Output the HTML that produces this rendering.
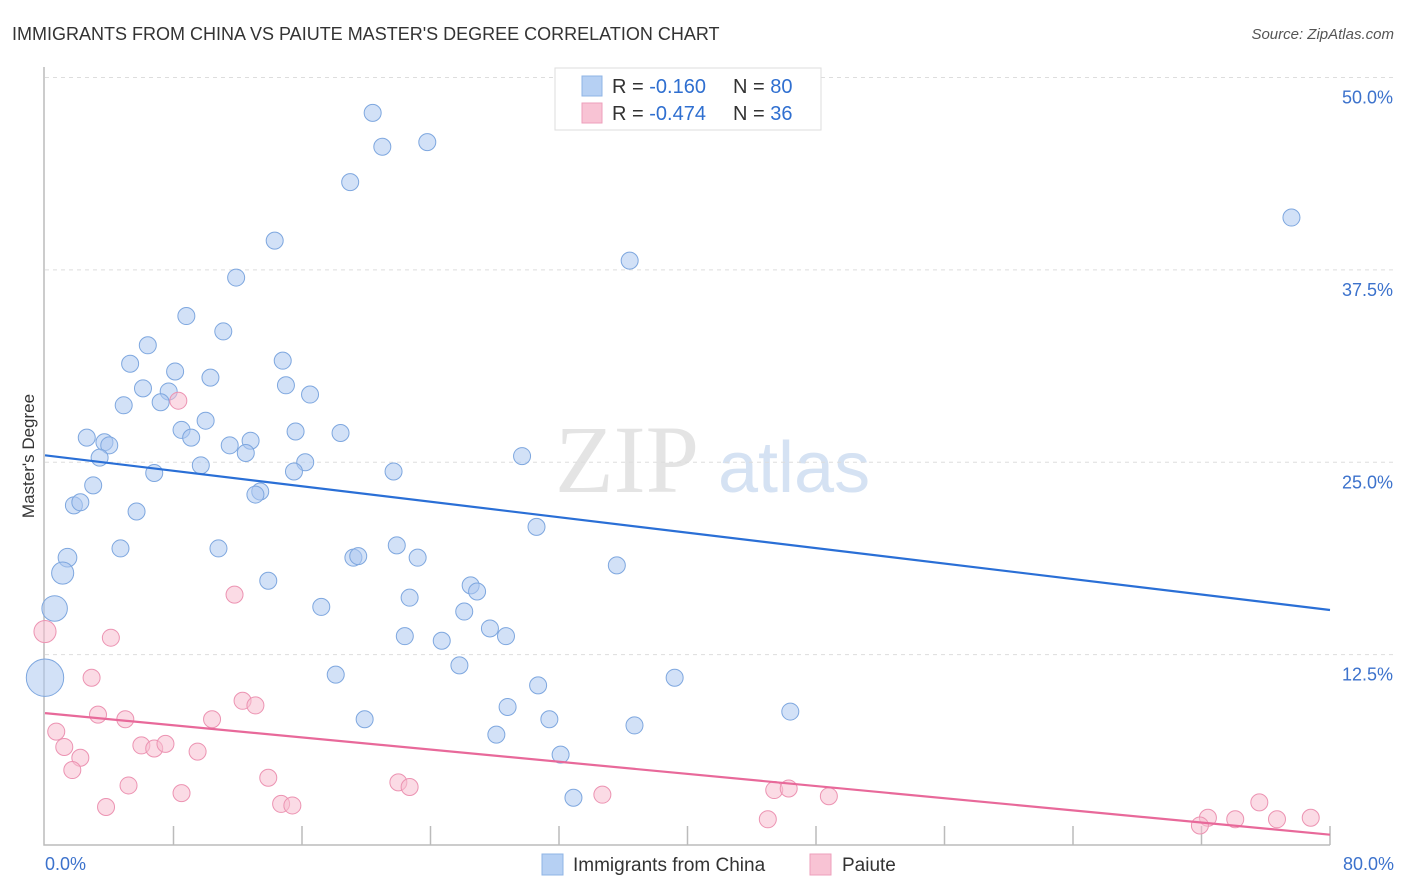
<!DOCTYPE html>
<html><head><meta charset="utf-8"><style>
body{margin:0;background:#fff;font-family:"Liberation Sans",sans-serif}
svg{display:block}
</style></head><body>
<svg id="chart" width="1406" height="892">
<text x="12" y="40" font-size="18" fill="#333">IMMIGRANTS FROM CHINA VS PAIUTE MASTER'S DEGREE CORRELATION CHART</text>
<text x="1394" y="39" font-size="15" fill="#555" text-anchor="end" font-style="italic">Source: ZipAtlas.com</text>
<text x="555" y="492" font-size="96" fill="#e4e4e4" font-family="Liberation Serif,serif">ZIP</text>
<text x="718" y="492" font-size="72" fill="#d5e2f3">atlas</text>
<text transform="translate(34,456) rotate(-90)" font-size="17" fill="#333" text-anchor="middle">Master's Degree</text>
<g id="grid"></g><g id="axes"></g><g id="pts"></g><g id="lines"></g>
<g>
<rect x="555" y="68" width="266" height="62" fill="#fff" stroke="#ddd"/>
<rect x="582" y="76" width="20" height="20" fill="#b6d0f3" stroke="#8fb4e6"/>
<rect x="582" y="103" width="20" height="20" fill="#f8c3d4" stroke="#ee9fbb"/>
<text x="612" y="93" font-size="20" fill="#333">R = <tspan fill="#2f6fd0">-0.160</tspan><tspan x="733">N = </tspan><tspan fill="#2f6fd0">80</tspan></text>
<text x="612" y="120" font-size="20" fill="#333">R = <tspan fill="#2f6fd0">-0.474</tspan><tspan x="733">N = </tspan><tspan fill="#2f6fd0"> 36</tspan></text>
</g>
<g>
<rect x="542" y="854" width="21" height="21" fill="#b6d0f3" stroke="#8fb4e6"/>
<text x="573" y="871" font-size="19" fill="#333">Immigrants from China</text>
<rect x="810" y="854" width="21" height="21" fill="#f8c3d4" stroke="#ee9fbb"/>
<text x="842" y="871" font-size="19" fill="#333">Paiute</text>
</g>
</svg>
<script>
const yTicks=[12.5,25,37.5,50];
const yTickLabels=["12.5%","25.0%","37.5%","50.0%"];
const xTickLabels=["0.0%","80.0%"];
const chinaX=[20.4,23.8,21.0,19.0,77.6,14.3,36.4,11.9,8.8,11.1,6.4,14.8,5.3,8.1,10.3,15.0,6.1,7.7,16.5,7.2,4.9,10.0,8.5,15.6,18.4,2.6,9.1,3.7,4.0,12.8,11.5,12.5,3.4,29.7,9.7,16.2,15.5,6.8,21.7,3.0,13.4,13.1,1.8,2.2,5.7,30.6,4.7,10.8,21.9,1.4,19.2,19.5,23.2,35.6,1.1,13.9,26.5,26.9,22.7,0.6,17.2,26.1,27.7,28.7,22.4,24.7,25.8,18.1,0,39.2,30.7,28.8,46.4,19.9,31.4,36.7,28.1,32.1,32.9];
const chinaY=[47.7,45.8,45.5,43.2,40.9,39.4,38.1,37.0,34.5,33.5,32.6,31.6,31.4,30.9,30.5,30.0,29.8,29.6,29.4,28.9,28.7,27.7,27.1,27.0,26.9,26.6,26.6,26.3,26.1,26.4,26.1,25.6,25.3,25.4,24.8,25.0,24.4,24.3,24.4,23.5,23.1,22.9,22.2,22.4,21.8,20.8,19.4,19.4,19.6,18.8,18.8,18.9,18.8,18.3,17.8,17.3,17.0,16.6,16.2,15.5,15.6,15.3,14.2,13.7,13.7,13.4,11.8,11.2,11.0,11.0,10.5,9.1,8.8,8.3,8.3,7.9,7.3,6.0,3.2];
const chinaSize=[1,1,1,1,1,1,1,1,1,1,1,1,1,1,1,1,1,1,1,1,1,1,1,1,1,1,1,1,1,1,1,1,1,1,1,1,1,1,1,1,1,1,1,1,1,1,1,1,1,1.1,1,1,1,1,1.3,1,1,1,1,1.5,1,1,1,1,1,1,1,1,2.2,1,1,1,1,1,1,1,1,1,1];
const paiuteX=[8.3,0,11.8,4.1,2.9,12.3,13.1,3.3,5.0,10.4,0.7,1.2,6.0,6.8,7.5,9.5,2.2,1.7,13.9,5.2,22.0,22.7,8.5,14.7,15.4,3.8,34.7,45.4,46.3,48.8,45.0,75.6,72.4,74.1,76.7,78.8,71.9];
const paiuteY=[29.0,14.0,16.4,13.6,11.0,9.5,9.2,8.6,8.3,8.3,7.5,6.5,6.6,6.4,6.7,6.2,5.8,5.0,4.5,4.0,4.2,3.9,3.5,2.8,2.7,2.6,3.4,3.7,3.8,3.3,1.8,2.9,1.9,1.8,1.8,1.9,1.4];
const paiuteSize=[1,1.3,1,1,1,1,1,1,1,1,1,1,1,1,1,1,1,1,1,1,1,1,1,1,1,1,1,1,1,1,1,1,1,1,1,1,1];
const chinaTrend=[25.45,15.4];
const paiuteTrend=[8.7,0.8];
const NS="http://www.w3.org/2000/svg";
const X0=45,X1=1330,Y0=847,PXY=15.39;
const sx=v=>X0+(X1-X0)*v/80, sy=v=>Y0-v*PXY;
function mk(tag,attrs,parent){const e=document.createElementNS(NS,tag);for(const k in attrs)e.setAttribute(k,attrs[k]);document.getElementById(parent).appendChild(e);return e;}
yTicks.forEach((t,i)=>{
 const g=mk('line',{x1:45,x2:1394,y1:sy(t),y2:sy(t),stroke:'#ddd','stroke-dasharray':'4,4'},'grid');
 
 
 const l=mk('text',{x:1393,y:sy(t)+26,'font-size':18,fill:'#3c72cc','text-anchor':'end'},'grid');
 
 
 l.textContent=yTickLabels[i];
});
const ax=mk('path',{d:'M44 67V845H1330',stroke:'#bbb',fill:'none','stroke-width':1.5},'axes');


for(let i=1;i<=10;i++){const t=mk('line',{x1:sx(i*8),x2:sx(i*8),y1:826,y2:845,stroke:'#bbb','stroke-width':1.5},'axes');
 
 }
[[45,'start'],[1394,'end']].forEach((p,i)=>{const t=mk('text',{x:p[0],y:870,'font-size':18,fill:'#3c72cc','text-anchor':p[1]},'axes');
 
 
 t.textContent=xTickLabels[i];});
function series(xs,ys,ss,fill,stroke,name){xs.forEach((x,i)=>{const c=mk('circle',{cx:sx(x),cy:sy(ys[i]),r:8.5*ss[i],fill:fill,'fill-opacity':0.55,stroke:stroke,'stroke-width':1},'pts');
 
 });}
series(chinaX,chinaY,chinaSize,'#adc9f0','#7ea7df','china-point');
series(paiuteX,paiuteY,paiuteSize,'#f8bdd0','#ec93b2','paiute-point');
const l1=mk('line',{x1:sx(0),y1:sy(chinaTrend[0]),x2:sx(80),y2:sy(chinaTrend[1]),stroke:'#2a6fd6','stroke-width':2.2},'lines');


const l2=mk('line',{x1:sx(0),y1:sy(paiuteTrend[0]),x2:sx(80),y2:sy(paiuteTrend[1]),stroke:'#e8699a','stroke-width':2.2},'lines');


</script>
</body></html>
